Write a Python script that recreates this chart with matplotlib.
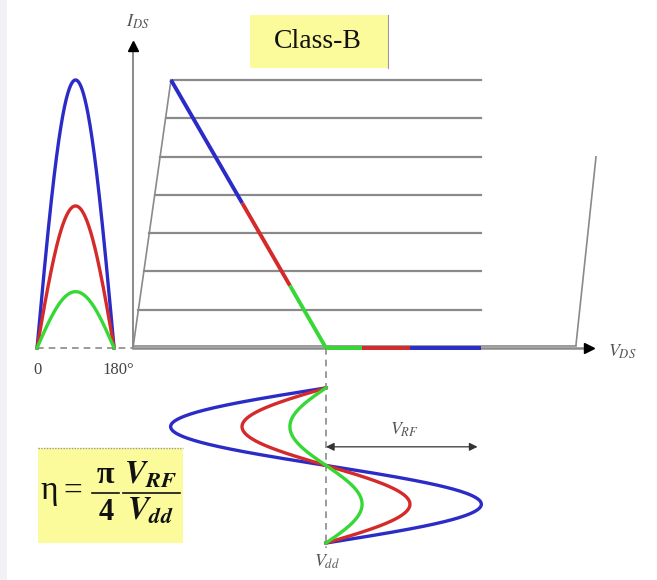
import numpy as np
import matplotlib
matplotlib.use("Agg")
import matplotlib.pyplot as plt
from matplotlib.patches import Rectangle

plt.rcParams['mathtext.fontset'] = 'stix'
plt.rcParams['font.family'] = ['Liberation Serif', 'DejaVu Serif']

# ---------------- data (normalised: Vdd = 1, Imax = 1) ----------------
series_names = ["blue", "red", "green"]
series_colors = ["#2b2bc8", "#d42a2a", "#35d835"]
vrf_amplitudes = [0.805, 0.435, 0.187]     # V_RF swing of each drive level
ipeak_halfsine = [1.0, 0.53, 0.21]         # peak drain current (left half-sine)
vdd = 1.0
v_knee_top = 0.197                          # knee voltage at Imax
i_levels = [0, 1/7, 2/7, 3/7, 4/7, 5/7, 6/7, 1.0]   # I-V curve levels
v_curve_end = 1.803
breakdown_v = [2.295, 2.399]
breakdown_i = [0.01, 0.713]
phase_ticks = [0, 180]
phase_tick_labels = ["0", "180°"]

# ---------------- layout ----------------
fig = plt.figure(figsize=(6.57, 5.80), dpi=100)
ax = fig.add_axes([0, 0, 1, 1])
ax.set_xlim(-0.689, 2.715)
ax.set_ylim(-0.866, 1.2985)
ax.axis('off')

GRAY = "#8a8a8a"
PH0, PHW = -0.497, 0.399          # half-sine x position / width
T_TOP, T_BOT = -0.149, -0.728     # bottom waveform time span

# faint left margin shading
ax.add_patch(Rectangle((-0.689, -0.866), 0.036, 2.1645, facecolor='#f1f2f5', edgecolor='none', zorder=0))

# I-V curves
for lev in i_levels[1:]:
    ax.plot([v_knee_top * lev, v_curve_end], [lev, lev], color=GRAY, lw=1.6, zorder=2)
ax.plot([0, v_knee_top], [0, 1.0], color=GRAY, lw=1.2, zorder=2)
ax.plot([0, breakdown_v[0]], [0.008, 0.008], color=GRAY, lw=1.2, zorder=2)
ax.plot(breakdown_v, breakdown_i, color=GRAY, lw=1.2, zorder=2)

# axes
ax.plot([0, 2.36], [0, 0], color=GRAY, lw=1.8, zorder=2)
ax.plot([0, 0], [0, 1.12], color=GRAY, lw=1.4, zorder=2)
ax.plot([0], [1.125], marker='^', color='black', ms=7, zorder=5)
ax.plot([2.365], [0], marker='>', color='black', ms=7, zorder=5)

# load line segments
cur_bounds = [1.0, vrf_amplitudes[1] / vrf_amplitudes[0], vrf_amplitudes[2] / vrf_amplitudes[0], 0.0]
for k, col in enumerate(series_colors):
    i_hi, i_lo = cur_bounds[k], cur_bounds[k + 1]
    v_hi = vdd - (vdd - v_knee_top) * i_hi
    v_lo = vdd - (vdd - v_knee_top) * i_lo
    ax.plot([v_hi, v_lo], [i_hi, i_lo], color=col, lw=2.8, solid_capstyle='butt', zorder=4)
# swing on the V axis
prev = 0.0
for amp, col in zip(vrf_amplitudes[::-1], series_colors[::-1]):
    ax.plot([vdd + prev, vdd + amp], [0, 0], color=col, lw=2.8, solid_capstyle='butt', zorder=4)
    prev = amp

# left half-sine currents
ph = np.linspace(0, np.pi, 200)
for pk, col in zip(ipeak_halfsine, series_colors):
    ax.plot(PH0 + ph / np.pi * PHW, pk * np.sin(ph), color=col, lw=2.4, zorder=4)
ax.plot([PH0, 0], [0, 0], color=GRAY, lw=1.2, ls=(0, (4, 3)), zorder=3)
for t, lab in zip(phase_ticks, phase_tick_labels):
    ax.text(PH0 + t / 180 * PHW + (0.02 if t else 0), -0.082, lab, ha='center', va='center',
            fontsize=12, color='#444')

# bottom voltage waveforms
th = np.linspace(0, 2 * np.pi, 400)
for amp, col in zip(vrf_amplitudes, series_colors):
    ax.plot(vdd - amp * np.sin(th), T_TOP + th / (2 * np.pi) * (T_BOT - T_TOP),
            color=col, lw=2.4, zorder=4)
ax.plot([vdd, vdd], [0, -0.746], color=GRAY, lw=1.2, ls=(0, (4, 3)), zorder=3)

# V_RF arrow
ax.annotate('', xy=(vdd + vrf_amplitudes[0] - 0.02, -0.369), xytext=(vdd, -0.369),
            arrowprops=dict(arrowstyle='<|-|>', color='#333', lw=0.9, mutation_scale=12,
                            shrinkA=0, shrinkB=0), zorder=5)

# labels
ax.text(0.026, 1.216, r'$I_{DS}$', ha='center', va='center', fontsize=13, color='#555')
ax.text(2.534, -0.015, r'$V_{DS}$', ha='center', va='center', fontsize=13, color='#555')
ax.text(1.404, -0.306, r'$V_{RF}$', ha='center', va='center', fontsize=13, color='#555')
ax.text(1.005, -0.799, r'$V_{dd}$', ha='center', va='center', fontsize=13, color='#555')

# Class-B box
ax.add_patch(Rectangle((0.606, 1.045), 0.715, 0.1975, facecolor='#fbfb9c', edgecolor='none', zorder=1))
ax.plot([1.321, 1.321], [1.045, 1.2425], color='#999', lw=0.8, zorder=2)
ax.text(0.959, 1.142, 'Class-B', ha='center', va='center', fontsize=20, color='#111')

# efficiency box
ax.add_patch(Rectangle((-0.492, -0.728), 0.751, 0.355, facecolor='#fbfb9c', edgecolor='none', zorder=1))
ax.plot([-0.492, 0.259], [-0.373, -0.373], color='#999', lw=1.0, ls=(0, (1, 1)), zorder=2)
FY = -0.542   # fraction bar level
ax.text(-0.435, FY + 0.01, 'η', ha='center', va='center', fontsize=24, color='#111')
ax.text(-0.310, FY + 0.005, '=', ha='center', va='center', fontsize=24, color='#111')
ax.plot([-0.212, -0.070], [FY, FY], color='#111', lw=1.2, zorder=3)
ax.text(-0.141, FY + 0.012, 'π', ha='center', va='bottom', fontsize=23, color='#111', fontweight='bold')
ax.text(-0.141, FY - 0.018, '4', ha='center', va='top', fontsize=22, color='#111', fontweight='bold')
ax.plot([-0.050, 0.243], [FY, FY], color='#111', lw=1.2, zorder=3)
ax.text(0.092, FY + 0.010, r'$\mathbfit{V}_{\mathbfit{RF}}$', ha='center', va='bottom', fontsize=23, color='#111')
ax.text(0.092, FY - 0.012, r'$\mathbfit{V}_{\mathbfit{dd}}$', ha='center', va='top', fontsize=23, color='#111')

fig.savefig('out.png', dpi=100, facecolor='white')
